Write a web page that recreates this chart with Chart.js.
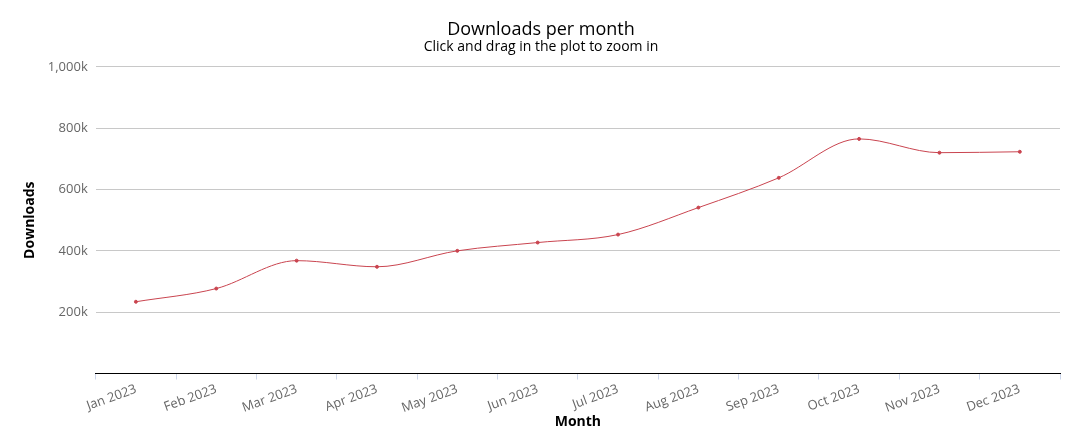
<!DOCTYPE html>
<html>
<head>
<meta charset="utf-8">
<script src="https://cdn.jsdelivr.net/npm/chart.js@4"></script>
<style>
  html, body { margin: 0; padding: 0; background: #fff; }
  #wrap { width: 1080px; height: 444px; }
</style>
</head>
<body>
<div id="wrap"><canvas id="downloads"></canvas></div>
<script>
var months = ['Jan 2023', 'Feb 2023', 'Mar 2023', 'Apr 2023', 'May 2023', 'Jun 2023',
              'Jul 2023', 'Aug 2023', 'Sep 2023', 'Oct 2023', 'Nov 2023', 'Dec 2023'];
var downloads = [234000, 277000, 368000, 348000, 400000, 427000,
                 453000, 541000, 638000, 765000, 720000, 723000];
var yTicks = [0, 200000, 400000, 600000, 800000, 1000000];

var lineColor = '#c9444f';
var fontFamily = '"Open Sans", "Noto Sans", sans-serif';

Chart.defaults.font.family = fontFamily;

function kLabel(v) {
    if (v === 0) return '';
    return (v / 1000).toLocaleString('en-US') + 'k';
}

var downloadsChart = new Chart(document.getElementById('downloads'), {
    type: 'line',
    data: {
        labels: months,
        datasets: [
            {
                label: 'Downloads',
                data: downloads,
                borderColor: lineColor,
                backgroundColor: lineColor,
                borderWidth: 1,
                pointRadius: 1.5,
                pointHoverRadius: 3,
                tension: 0.4,
                cubicInterpolationMode: 'monotone'
            }
        ]
    },
    options: {
        responsive: true,
        maintainAspectRatio: false,
        animation: false,
        layout: {
            padding: { left: 22, right: 20, top: 9, bottom: 14 }
        },
        plugins: {
            legend: { display: false },
            title: {
                display: true,
                text: 'Downloads per month',
                color: '#000',
                font: { size: 18, weight: 'normal', lineHeight: 1.0 },
                padding: { top: 12, bottom: 0 }
            },
            subtitle: {
                display: true,
                text: 'Click and drag in the plot to zoom in',
                color: '#000',
                font: { size: 14, weight: 'normal' },
                padding: { top: 0, bottom: 11 }
            },
            tooltip: { enabled: true }
        },
        scales: {
            x: {
                offset: true,
                grid: {
                    display: true,
                    drawOnChartArea: false,
                    drawTicks: true,
                    tickLength: 6,
                    color: '#ccd6eb',
                    offset: true
                },
                border: { display: true, color: '#000', width: 1 },
                ticks: {
                    color: '#666',
                    font: { size: 13 },
                    minRotation: 20,
                    maxRotation: 20,
                    autoSkip: false,
                    padding: 2
                },
                title: {
                    display: true,
                    text: 'Month',
                    color: '#000',
                    font: { size: 14, weight: 'bold' },
                    padding: { top: -5, bottom: 0 }
                }
            },
            y: {
                min: 0,
                max: 1000000,
                afterBuildTicks: function (axis) {
                    axis.ticks = yTicks.map(function (v) { return { value: v }; });
                },
                grid: {
                    drawTicks: false,
                    color: function (ctx) {
                        return ctx.tick && ctx.tick.value === 0 ? 'rgba(0,0,0,0)' : '#c8c8c8';
                    }
                },
                border: { display: false },
                ticks: {
                    color: '#666',
                    font: { size: 13 },
                    padding: 8,
                    callback: function (v) { return kLabel(v); }
                },
                title: {
                    display: true,
                    text: 'Downloads',
                    color: '#000',
                    font: { size: 14, weight: 'bold' },
                    padding: { top: 0, bottom: 1 }
                }
            }
        }
    }
});
</script>
</body>
</html>
